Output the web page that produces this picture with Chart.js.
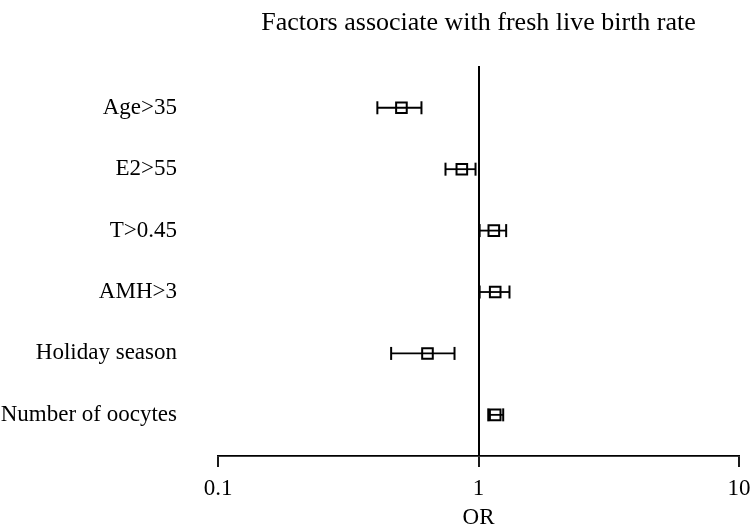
<!DOCTYPE html>
<html>
<head>
<meta charset="utf-8">
<script src="https://cdn.jsdelivr.net/npm/chart.js@4"></script>
<style>
  html, body { margin: 0; padding: 0; background: #fff; }
  #wrap { width: 750px; height: 527px; }
</style>
</head>
<body>
<div id="wrap"><canvas id="forest"></canvas></div>
<script>
const categories = ['Age>35', 'E2>55', 'T>0.45', 'AMH>3', 'Holiday season', 'Number of oocytes'];
const oddsRatio = [0.506, 0.863, 1.145, 1.159, 0.637, 1.159];
const lowerCI = [0.409, 0.747, 1.01, 1.01, 0.462, 1.09];
const upperCI = [0.604, 0.974, 1.277, 1.315, 0.809, 1.244];
const xTicks = [0.1, 1, 10];
const xTickLabels = ['0.1', '1', '10'];
const chartTitle = 'Factors associate with fresh live birth rate';

const serif = '"Liberation Serif", "Times New Roman", serif';
Chart.defaults.font.family = serif;
Chart.defaults.color = '#000';

// one dataset per whisker, caps are rotated line points
const whiskers = categories.map((c, i) => ({
  label: c,
  data: [{x: lowerCI[i], y: i}, {x: upperCI[i], y: i}],
  showLine: true,
  borderColor: '#000',
  borderWidth: 1.8,
  pointStyle: 'line',
  rotation: 90,
  pointRadius: 6.5,
  pointBorderWidth: 2,
  pointBorderColor: '#000'
}));

const boxes = {
  label: 'OR',
  data: categories.map((c, i) => ({x: oddsRatio[i], y: i})),
  pointStyle: 'rect',
  pointRadius: 7.5,
  pointBorderWidth: 2,
  pointBorderColor: '#000',
  pointBackgroundColor: 'rgba(0,0,0,0)'
};

const titlePlugin = {
  id: 'areaTitle',
  afterDraw(chart) {
    const ctx = chart.ctx, a = chart.chartArea;
    ctx.save();
    ctx.font = '26px ' + serif;
    ctx.fillStyle = '#000';
    ctx.textAlign = 'center';
    ctx.textBaseline = 'alphabetic';
    ctx.fillText(chartTitle, (a.left + a.right) / 2, 30);
    ctx.restore();
  }
};

new Chart(document.getElementById('forest'), {
  type: 'scatter',
  data: { datasets: [...whiskers, boxes] },
  options: {
    responsive: true,
    maintainAspectRatio: false,
    animation: false,
    layout: { padding: { top: 66, right: 0, bottom: 0, left: 0 } },
    plugins: {
      legend: { display: false },
      tooltip: { enabled: false }
    },
    scales: {
      x: {
        type: 'logarithmic',
        min: 0.1,
        max: 10,
        afterBuildTicks: s => { s.ticks = xTicks.map(v => ({value: v})); },
        afterFit: s => { s.height = 71; s.paddingRight = 11; },
        ticks: {
          font: { size: 23 },
          padding: 8,
          maxRotation: 0,
          callback: (v) => xTickLabels[xTicks.indexOf(v)]
        },
        grid: {
          color: c => (c.tick && c.tick.value === 1) ? '#000' : 'rgba(0,0,0,0)',
          lineWidth: 2,
          tickColor: '#000',
          tickLength: 11,
          tickWidth: 1.8
        },
        border: { display: true, color: '#000', width: 1.8 },
        title: {
          display: true,
          text: 'OR',
          font: { size: 23, lineHeight: 0.8 },
          padding: { top: 0, bottom: 0 }
        }
      },
      y: {
        type: 'linear',
        reverse: true,
        min: -0.68,
        max: 5.67,
        afterBuildTicks: s => { s.ticks = categories.map((c, i) => ({value: i})); },
        afterFit: s => { s.width = 218; },
        ticks: {
          font: { size: 23 },
          padding: 33,
          callback: v => categories[v]
        },
        grid: { display: false },
        border: { display: false }
      }
    }
  },
  plugins: [titlePlugin]
});
</script>
</body>
</html>
